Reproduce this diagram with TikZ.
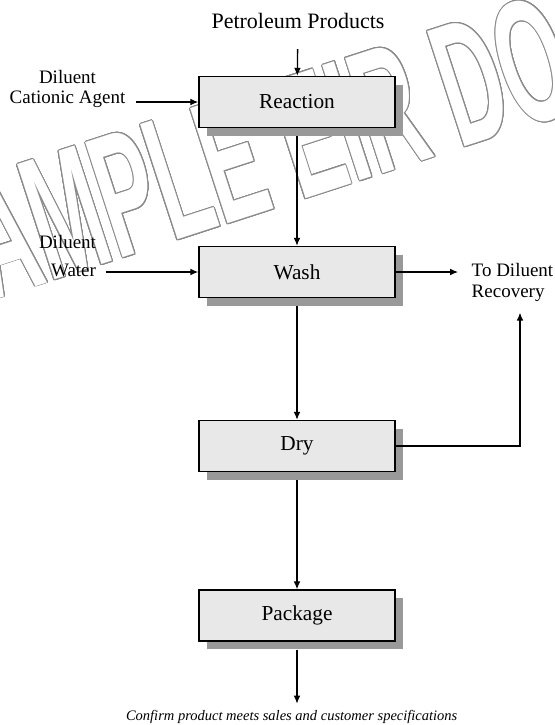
\documentclass[tikz,border=0pt]{standalone}
\usepackage{fontspec}
\setmainfont{Liberation Serif}
\newfontfamily\wmfont{Liberation Sans}
\usepackage[rgb]{xcolor}
\definecolor{boxgray}{HTML}{E8E8E8}
\definecolor{shade}{HTML}{999999}
\definecolor{wmgray}{HTML}{8A8A8A}
\usepackage{tikz}
\usetikzlibrary{arrows.meta}
\newcommand{\wmtext}{\scalebox{0.49}[1]{SAMPLE EIR DOC}}

\begin{document}
\begin{tikzpicture}[x=0.5pt,y=-0.5pt,line width=0.65pt,>={Latex[length=4pt,width=3.4pt]},
	process/.style={rectangle, draw, line width=0.7pt, fill=boxgray, minimum width=98pt, minimum height=25.5pt, font=\fontsize{10.65}{12}\selectfont, preaction={draw=none, fill=shade, transform canvas={xshift=4pt, yshift=-4pt}}},
	side/.style={inner sep=3pt, font=\fontsize{9.5}{10.25}\selectfont},
	wmark/.style={inner sep=0pt, rotate=18, anchor=base west, font=\wmfont\bfseries\fontsize{88}{88}\selectfont}]
	\useasboundingbox (0,0) rectangle (555,725);
	\begin{scope}
	\clip (0,0) rectangle (555,725);
	\foreach \a in {0,15,...,345}
		\node[wmark, text=wmgray, xshift={0.45pt*cos(\a)}, yshift={0.45pt*sin(\a)}] at (-65,319) {\wmtext};
	\node[wmark, text=white] at (-65,319) (wm) {\wmtext};
	\end{scope}
	
	\node[side, font=\fontsize{11}{13}\selectfont] at (298,20.7) (petro) {Petroleum Products};
	\node[process] at (297,102) (react) {Reaction};
	\node[process] at (297,272) (wash) {Wash};
	\node[process] at (297,446) (dry) {Dry};
	\node[process] at (297,615.5) (pack) {Package};
	\node[side, align=center] at (67.5,89) (agent) {Diluent\\Cationic Agent};
	\node[side, align=right] at (67.5,256) (water) {Diluent\\[3.7pt]Water};
	\node[side, align=left] at (512.5,282.5) (todil) {To Diluent\\[0.55pt]Recovery};
	\node[side, font=\itshape\fontsize{7.25}{8.5}\selectfont] at (291.7,717) (spec) {Confirm product meets sales and customer specifications};
	
	\draw[->, shorten <=7pt] (petro) -- (react);
	\draw[->, shorten <=2pt] (agent.east |- react) -- (react);
	\draw[->, shorten <=4pt] (react) -- (wash);
	\draw[->, shorten <=1.5pt] (water.east |- wash) -- (wash);
	\draw[->, shorten >=3.5pt] (wash) -- (wash -| todil.west);
	\draw[->, shorten <=4pt] (wash) -- (dry);
	\draw[->, shorten >=2pt] (dry) -| ([xshift=3.75pt]todil.south);
	\draw[->, shorten <=4pt] (dry) -- (pack);
	\draw[->, shorten <=4pt] (pack) -- (pack |- spec.north);
\end{tikzpicture}
\end{document}
